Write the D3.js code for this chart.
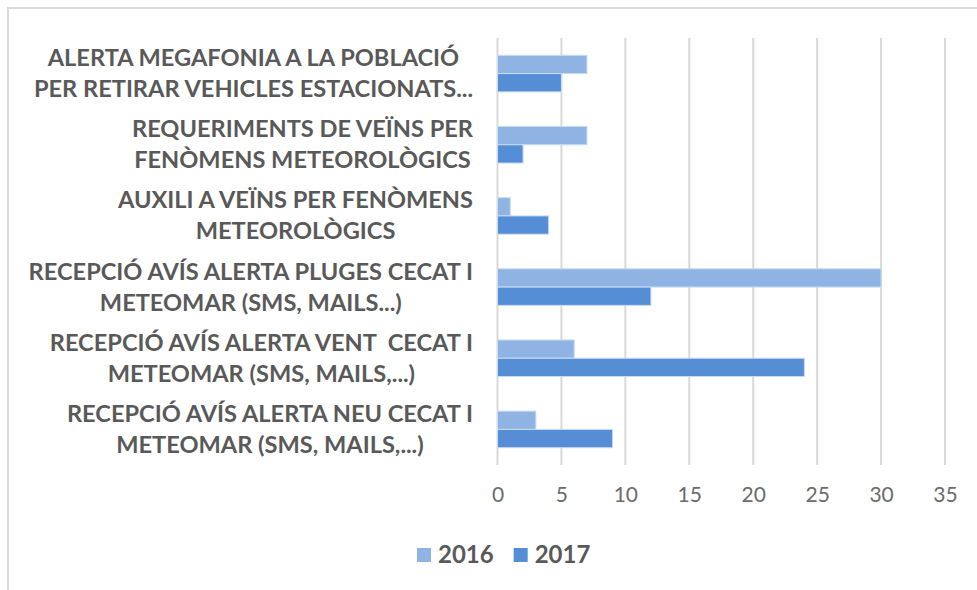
<!DOCTYPE html>
<html><head><meta charset="utf-8">
<script src="https://cdn.jsdelivr.net/npm/d3@7"></script>
<style>html,body{margin:0;padding:0;background:#fff;}</style>
</head><body>
<svg id="c" width="977" height="590"></svg>
<script>
const categories = [
  ["ALERTA MEGAFONIA A LA POBLACIÓ", "PER RETIRAR VEHICLES ESTACIONATS..."],
  ["REQUERIMENTS DE VEÏNS PER", "FENÒMENS METEOROLÒGICS"],
  ["AUXILI A VEÏNS PER FENÒMENS", "METEOROLÒGICS"],
  ["RECEPCIÓ AVÍS ALERTA PLUGES CECAT I", "METEOMAR (SMS, MAILS...)"],
  ["RECEPCIÓ AVÍS ALERTA VENT  CECAT I", "METEOMAR (SMS, MAILS,...)"],
  ["RECEPCIÓ AVÍS ALERTA NEU CECAT I", "METEOMAR (SMS, MAILS,...)"]
];
const seriesNames = ["2016", "2017"];
const values2016 = [7, 7, 1, 30, 6, 3];
const values2017 = [5, 2, 4, 12, 24, 9];
const xTicks = [0, 5, 10, 15, 20, 25, 30, 35];
const colors = ["#8FB4E3", "#558ED5"];

(function() {
const svg = d3.select("#c");
const pLeft = 497.5, pRight = 945, pTop = 38, pBottom = 465;

// frame
svg.append("rect").attr("x", 8).attr("y", 8).attr("width", 1000).attr("height", 620)
  .attr("fill", "none").attr("stroke", "#d9d9d9").attr("stroke-width", 2);

const x = d3.scaleLinear().domain([0, 35]).range([pLeft, pRight]);
const y = d3.scaleBand().domain(d3.range(categories.length)).range([pTop, pBottom]).paddingInner(0).paddingOuter(0);
const inner = d3.scaleBand().domain([0, 1]).range([0, y.bandwidth()]).paddingOuter(0.946).paddingInner(0);

// gridlines
svg.append("g").selectAll("line").data(xTicks).join("line")
  .attr("x1", d => x(d)).attr("x2", d => x(d))
  .attr("y1", pTop).attr("y2", pBottom)
  .attr("stroke", "#d9d9d9").attr("stroke-width", 2);

// tick labels via axis
const axis = svg.append("g").attr("transform", `translate(0,${pBottom})`)
  .call(d3.axisBottom(x).tickValues(xTicks).tickSize(0).tickPadding(22));
axis.select(".domain").remove();
axis.selectAll("text").attr("font-family", "Lato, 'Open Sans', sans-serif")
  .attr("font-size", 21).attr("fill", "#6b6b6b");

// bars
const series = [values2016, values2017];
series.forEach((vals, si) => {
  svg.append("g").selectAll("rect").data(vals).join("rect")
    .attr("x", x(0))
    .attr("y", (d, i) => y(i) + inner(si))
    .attr("width", d => x(d) - x(0))
    .attr("height", inner.bandwidth())
    .attr("fill", colors[si])
    .attr("stroke", "#c9dcf3").attr("stroke-width", 1);
});

// category labels
const labelG = svg.append("g");
const fontSize = 23.6;
categories.forEach((lines, i) => {
  const c = y(i) + y.bandwidth() / 2;
  const g = labelG.append("g");
  const texts = g.selectAll("text").data(lines).join("text")
    .attr("text-anchor", "middle")
    .attr("x", 0)
    .attr("y", (d, k) => c - 7.5 + k * 31)
    .attr("font-family", "Lato, 'Open Sans', sans-serif")
    .attr("font-weight", 700)
    .attr("font-size", fontSize)
    .attr("fill", "#595959")
    .style("white-space", "pre")
    .text(d => d);
  let w = 0;
  texts.each(function() { w = Math.max(w, this.getComputedTextLength()); });
  g.attr("transform", `translate(${473 - w / 2},0)`);
});

// legend
const legend = svg.append("g");
let lx = 417;
seriesNames.forEach((name, i) => {
  legend.append("rect").attr("x", lx).attr("y", 548).attr("width", 14).attr("height", 14).attr("fill", colors[i]);
  const t = legend.append("text").attr("x", lx + 21).attr("y", 563)
    .attr("font-family", "Lato, 'Open Sans', sans-serif").attr("font-weight", 700)
    .attr("font-size", 24).attr("fill", "#595959").text(name);
  lx += 21 + t.node().getComputedTextLength() + 20;
});
})();
</script>
</body></html>
